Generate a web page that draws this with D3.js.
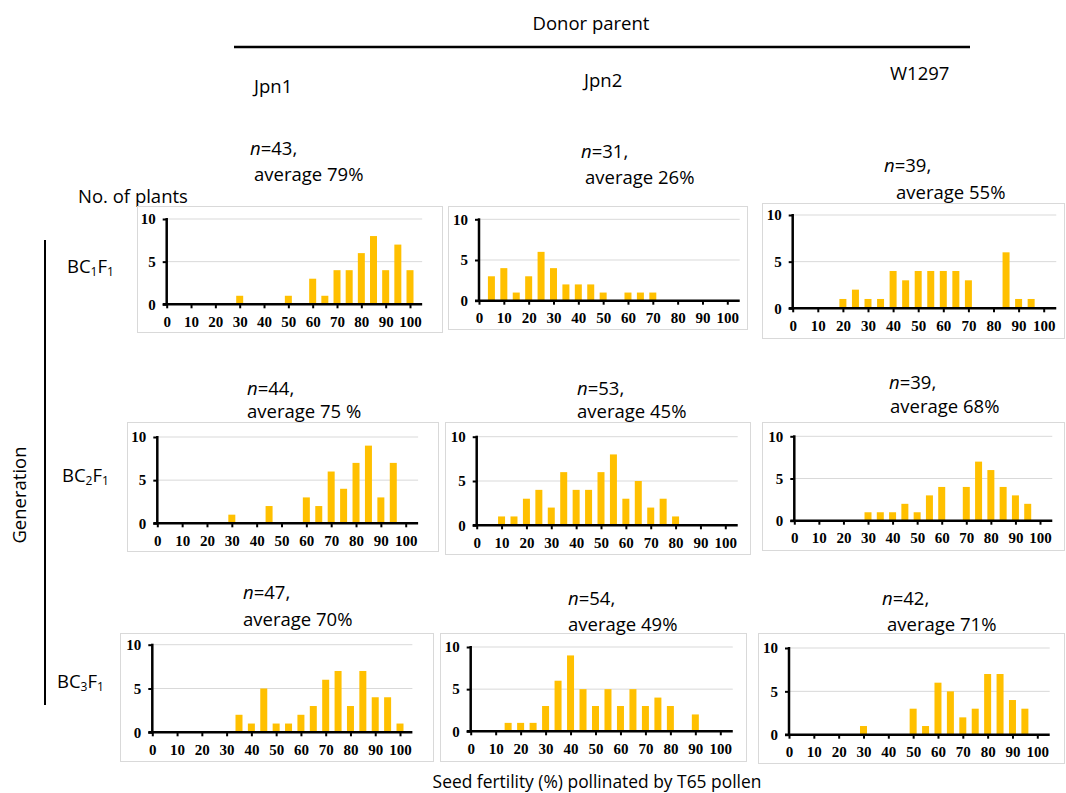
<!DOCTYPE html>
<html><head><meta charset="utf-8">
<script src="https://cdn.jsdelivr.net/npm/d3@7"></script>
<style>body{margin:0;background:#fff} svg{display:block}</style>
</head><body><svg id="chart" width="1066" height="793"></svg>
<script>
// ---- data ----
const bins = [0,5,10,15,20,25,30,35,40,45,50,55,60,65,70,75,80,85,90,95,100];
const donors = ["Jpn1","Jpn2","W1297"];
const generations = ["1","2","3"];
const jpn1_BC1 = [0,0,0,0,0,0,1,0,0,0,1,0,3,1,4,4,6,8,4,7,4];
const jpn2_BC1 = [0,3,4,1,3,6,4,2,2,2,1,0,1,1,1,0,0,0,0,0,0];
const w1297_BC1 = [0,0,0,0,1,2,1,1,4,3,4,4,4,4,3,0,0,6,1,1,0];
const jpn1_BC2 = [0,0,0,0,0,0,1,0,0,2,0,0,3,2,6,4,7,9,3,7,0];
const jpn2_BC2 = [0,0,1,1,3,4,2,6,4,4,6,8,3,5,2,3,1,0,0,0,0];
const w1297_BC2 = [0,0,0,0,0,0,1,1,1,2,1,3,4,0,4,7,6,4,3,2,0];
const jpn1_BC3 = [0,0,0,0,0,0,0,2,1,5,1,1,2,3,6,7,3,7,4,4,1];
const jpn2_BC3 = [0,0,0,1,1,1,3,6,9,5,3,5,3,5,3,4,3,0,2,0,0];
const w1297_BC3 = [0,0,0,0,0,0,1,0,0,0,3,1,6,5,2,3,7,7,4,3,0];
const nValues = [[43,31,39],[44,53,39],[47,54,42]];
const averages = [["79%","26%","55%"],["75 %","45%","68%"],["70%","49%","71%"]];
const xTicks = [0,10,20,30,40,50,60,70,80,90,100];
const yTicks = [0,5,10];
const series = [[jpn1_BC1,jpn2_BC1,w1297_BC1],[jpn1_BC2,jpn2_BC2,w1297_BC2],[jpn1_BC3,jpn2_BC3,w1297_BC3]];

// ---- layout ----
const layout = [
  [ {box:[137,206,442,332], x0:166.7, x100:410,   y0:304.3, y10:219},
    {box:[448,206,747,329], x0:479,   x100:727.3, y0:300.7, y10:219.3},
    {box:[762,203,1064,338],x0:792.7, x100:1043.7,y0:308.3, y10:215} ],
  [ {box:[127,422,438,551], x0:157.3, x100:405.7, y0:523.3, y10:437},
    {box:[445,422,750,554], x0:476.7, x100:725.3, y0:525.3, y10:436.7},
    {box:[762,422,1064,550],x0:794.3, x100:1040,  y0:520.7, y10:436.3} ],
  [ {box:[120,633,433,761], x0:152.3, x100:400,   y0:732.3, y10:644.7},
    {box:[440,633,746,761], x0:470.7, x100:720.3, y0:731.3, y10:647},
    {box:[758,633,1064,763],x0:789,   x100:1037.3,y0:734.7, y10:648} ]
];
const notePos = [
  [[250,155,254,181],[581,158,585,184],[884,172,896,199]],
  [[247,395,247,418],[577,395,577,418],[889,389,890,413]],
  [[243,599,243,626],[568,605,568,631],[882,605,887,631]]
];
const colPos = [[254,93],[584,87],[890,80]];
const rowLabelPos = [[67,273],[62,482],[57,688]];

const LABEL_FONT = "'Open Sans', sans-serif";
const FS = 18.5;
const TICK_FONT = "'Liberation Serif', 'Times New Roman', serif";
const BAR = "#FFC000";

const svg = d3.select("#chart");

// header
svg.append("text").attr("x",591).attr("y",30).attr("text-anchor","middle")
  .attr("font-family",LABEL_FONT).attr("font-size",FS).text("Donor parent");
svg.append("line").attr("x1",234).attr("x2",970).attr("y1",47).attr("y2",47)
  .attr("stroke","#000").attr("stroke-width",2.5);
donors.forEach((d,i)=>{
  svg.append("text").attr("x",colPos[i][0]).attr("y",colPos[i][1])
    .attr("font-family",LABEL_FONT).attr("font-size",FS).text(d);
});
svg.append("text").attr("x",78).attr("y",203).attr("font-family",LABEL_FONT)
  .attr("font-size",FS).text("No. of plants");
svg.append("line").attr("x1",45).attr("x2",45).attr("y1",240).attr("y2",705)
  .attr("stroke","#000").attr("stroke-width",2);
svg.append("text").attr("transform","translate(26,495) rotate(-90)")
  .attr("text-anchor","middle").attr("font-family",LABEL_FONT).attr("font-size",FS)
  .text("Generation");
svg.append("text").attr("x",597).attr("y",788).attr("text-anchor","middle")
  .attr("font-family",LABEL_FONT).attr("font-size",17.4)
  .text("Seed fertility (%) pollinated by T65 pollen");

generations.forEach((g,r)=>{
  const t = svg.append("text").attr("x",rowLabelPos[r][0]).attr("y",rowLabelPos[r][1])
    .attr("font-family",LABEL_FONT).attr("font-size",FS);
  t.append("tspan").text("BC");
  t.append("tspan").attr("font-size",12).attr("dy",3).text(g);
  t.append("tspan").attr("dy",-3).text("F");
  t.append("tspan").attr("font-size",12).attr("dy",3).text("1");
});

for (let r=0;r<3;r++){
  for (let c=0;c<3;c++){
    const L = layout[r][c];
    const data = series[r][c];
    const g = svg.append("g");
    g.append("rect").attr("x",L.box[0]+0.5).attr("y",L.box[1]+0.5)
      .attr("width",L.box[2]-L.box[0]).attr("height",L.box[3]-L.box[1])
      .attr("fill","#fff").attr("stroke","#d9d9d9").attr("stroke-width",1);
    const x = d3.scaleLinear().domain([0,100]).range([L.x0,L.x100]);
    const y = d3.scaleLinear().domain([0,10]).range([L.y0,L.y10]);
    const xEnd = x(105);
    // gridlines
    g.selectAll(".grid").data(yTicks.filter(v=>v>0)).join("line")
      .attr("x1",L.x0).attr("x2",xEnd).attr("y1",d=>y(d)).attr("y2",d=>y(d))
      .attr("stroke","#d9d9d9").attr("stroke-width",1);
    // bars
    const bw = 7;
    g.selectAll(".bar").data(bins.map((b,i)=>({b,v:data[i]})).filter(d=>d.v>0)).join("rect")
      .attr("x",d=>x(d.b)-bw/2).attr("width",bw)
      .attr("y",d=>y(d.v)).attr("height",d=>y(0)-y(d.v))
      .attr("fill",BAR);
    // axes
    const ya = g.append("g").attr("transform",`translate(${L.x0},0)`)
      .call(d3.axisLeft(y).tickValues(yTicks).tickSize(4).tickSizeOuter(0).tickPadding(7));
    const xa = g.append("g").attr("transform",`translate(0,${L.y0})`)
      .call(d3.axisBottom(x).tickValues(xTicks).tickSize(4).tickSizeOuter(0).tickPadding(8));
    [ya,xa].forEach(a=>{
      a.select(".domain").remove();
      a.selectAll(".tick line").attr("stroke","#000").attr("stroke-width",2);
      a.selectAll(".tick text").attr("font-family",TICK_FONT).attr("font-weight","bold")
        .attr("font-size",15).attr("fill","#000");
    });
    g.append("line").attr("x1",L.x0-4).attr("x2",xEnd).attr("y1",L.y0).attr("y2",L.y0)
      .attr("stroke","#000").attr("stroke-width",2.5);
    g.append("line").attr("x1",L.x0).attr("x2",L.x0).attr("y1",L.y10-1).attr("y2",L.y0+1)
      .attr("stroke","#000").attr("stroke-width",2.5);
    // notes
    const P = notePos[r][c];
    const t1 = svg.append("text").attr("x",P[0]).attr("y",P[1])
      .attr("font-family",LABEL_FONT).attr("font-size",FS);
    t1.append("tspan").attr("font-style","italic").text("n");
    t1.append("tspan").text("=" + nValues[r][c] + ",");
    svg.append("text").attr("x",P[2]).attr("y",P[3])
      .attr("font-family",LABEL_FONT).attr("font-size",FS)
      .text("average " + averages[r][c]);
  }
}
</script></body></html>
